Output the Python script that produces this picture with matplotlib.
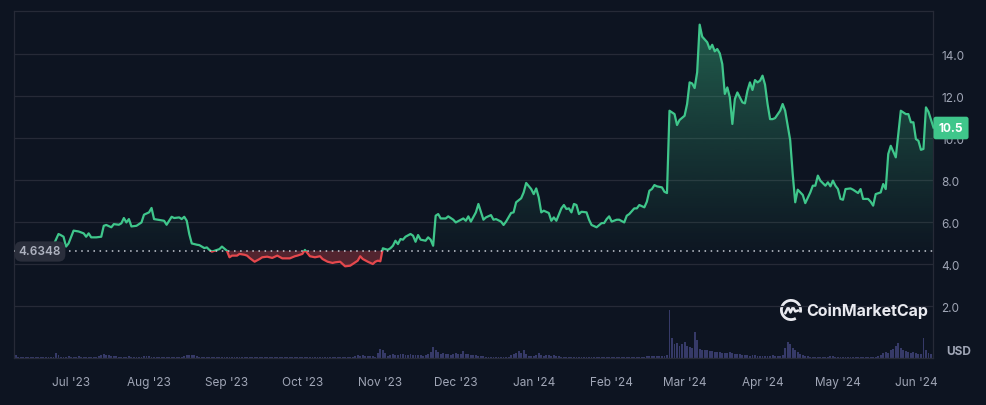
import numpy as np
import matplotlib
matplotlib.use("Agg")
import matplotlib.pyplot as plt
import matplotlib.dates as mdates
from matplotlib.path import Path
from matplotlib.patches import Rectangle, Arc

plt.rcParams['font.family'] = ['Inter', 'DejaVu Sans']

# ---------------- data ----------------
start_date = "2023-07-01"          # day 0
base_price = 4.6348                # reference (first) price
last_price = 10.5

price_days = [-22, -19, -16, -13, -10, -7,
    -5, -4, -3, -2, -1, 1, 3, 5, 6, 7, 8, 10, 12, 13, 14, 16, 17, 19, 20, 21, 22, 23, 24, 26,
    28, 29, 31, 32, 33, 35, 37, 38, 40, 41, 43, 44, 45, 46, 47, 48, 50, 51, 53, 54, 55, 56,
    58, 59, 60, 62, 63, 64, 66, 67, 69, 70, 71, 73, 75, 76, 78, 80, 82, 84, 86, 87, 89, 90,
    92, 93, 94, 95, 97, 99, 100, 102, 104, 105, 107, 109, 111, 112, 114, 115, 116, 118, 120,
    121, 122, 123, 124, 125, 126, 127, 128, 129, 130, 131, 132, 133, 135, 136, 137, 138, 139,
    141, 142, 143, 144, 145, 146, 147, 149, 150, 152, 153, 155, 156, 157, 158, 159, 161, 162,
    164, 165, 167, 168, 169, 171, 172, 173, 175, 176, 177, 179, 180, 181, 183, 184, 185, 186,
    187, 188, 190, 191, 192, 193, 195, 196, 197, 198, 199, 200, 201, 202, 203, 205, 206, 207,
    209, 211, 212, 213, 214, 215, 217, 218, 220, 221, 222, 224, 225, 226, 228, 229, 230, 231,
    232, 233, 235, 236, 237, 238, 240, 241, 242, 244, 245, 246, 247, 248, 249, 250, 251, 253,
    254, 255, 256, 257, 258, 259, 260, 261, 262, 263, 264, 265, 267, 268, 269, 270, 271, 272,
    273, 274, 275, 276, 277, 278, 279, 280, 282, 283, 284, 286, 287, 288, 289, 291, 292, 294,
    295, 296, 297, 298, 300, 301, 302, 303, 304, 305, 306, 307, 308, 310, 311, 313, 314, 315,
    317, 318, 319, 320, 322, 323, 324, 325, 326, 328, 330, 332, 333, 334, 335, 336, 337, 338,
    339, 340, 341, 343]

prices = [4.63, 4.70, 4.85, 4.60, 4.75, 4.90,
    5.43, 5.37, 5.30, 4.83, 4.98, 5.59, 5.55, 5.46, 5.30, 5.46, 5.27, 5.27, 5.30, 5.82, 5.86,
    5.75, 5.90, 5.87, 5.94, 6.19, 5.98, 6.14, 5.79, 5.82,
    5.98, 6.35, 6.46, 6.67, 6.14, 6.10, 6.06, 5.87, 6.25, 6.19, 6.22, 6.14, 6.25, 6.06, 5.43,
    4.98, 4.92, 4.90, 4.76, 4.79, 4.67, 4.59,
    4.67, 4.71, 4.83, 4.63, 4.32, 4.40, 4.40, 4.48, 4.44, 4.40, 4.29, 4.11, 4.24, 4.32, 4.35,
    4.29, 4.40, 4.27, 4.27, 4.27, 4.37, 4.40,
    4.48, 4.67, 4.52, 4.37, 4.32, 4.37, 4.24, 4.11, 4.05, 4.08, 4.11, 3.89, 3.92, 4.00, 4.16,
    4.37, 4.24, 4.11, 4.00,
    4.11, 4.16, 4.13, 4.75, 4.71, 4.68, 4.75, 4.87, 5.11, 4.95, 5.19, 5.16, 5.30, 5.43, 5.35,
    5.06, 5.38, 5.16,
    5.11, 5.27, 5.16, 4.87, 6.30, 6.38, 6.17, 6.17, 6.27, 6.11, 5.98, 6.11, 6.17, 6.06, 6.27,
    6.02, 6.46, 6.86,
    6.11, 6.22, 6.33, 6.11, 6.14, 6.02, 5.86, 6.02, 6.43, 6.46, 6.94, 7.13, 7.41, 7.86, 7.57,
    7.33, 7.60, 7.17,
    6.46, 6.54, 6.43, 6.06, 6.22, 6.06, 6.65, 6.81, 6.62, 6.65, 6.46, 6.86, 6.81, 6.38, 6.49,
    6.46, 6.11, 5.86,
    5.75, 5.95, 5.95, 6.14, 6.27, 6.02, 6.11, 6.11, 5.98, 6.30, 6.38, 6.65, 6.65, 6.81, 6.70,
    6.97, 7.49, 7.57,
    7.76, 7.70, 7.65, 7.44, 7.38, 11.30, 11.14, 10.62, 10.86, 11.06, 11.62, 12.65, 12.60, 12.38,
    13.13, 15.40, 14.83, 14.56,
    14.24, 14.44, 14.13, 14.24, 14.03, 13.52, 12.10, 12.41, 11.94, 10.67, 11.86, 12.17, 11.70,
    11.65, 12.25, 12.65, 12.29, 12.76,
    12.65, 12.73, 12.97, 12.54, 11.62, 10.90, 10.90, 10.95, 11.30, 11.62, 11.30, 9.90, 8.29,
    6.94, 7.54, 7.29, 6.90, 7.41,
    7.73, 7.73, 8.21, 7.97, 7.73, 7.89, 7.70, 7.97, 7.73, 7.57, 7.10, 7.06, 7.57, 7.60, 7.54,
    7.38, 7.57, 7.10,
    7.10, 6.97, 6.78, 7.33, 7.41, 7.81, 7.57, 9.24, 9.63, 9.08, 11.30, 11.14, 11.14, 10.75,
    10.75, 9.95, 9.87, 9.44,
    9.48, 11.46, 11.25, 10.50]

# daily volume, relative units, days -22 .. 343
volume = [
    3, 1, 1, 1, 1, 1, 1, 1, 1, 1,
    1, 1, 1, 1, 1, 1, 5, 3, 1, 1,
    1, 2, 1, 1, 1, 2, 1, 1, 1, 1,
    1, 1, 1, 2, 3, 4, 3, 3, 2, 2,
    2, 1, 1, 1, 1, 2, 1, 1, 1, 1,
    1, 2, 2, 2, 1, 1, 1, 1, 1, 1,
    1, 1, 1, 1, 1, 1, 1, 2, 3, 3,
    3, 3, 2, 1, 1, 1, 1, 1, 1, 1,
    1, 1, 1, 1, 1, 1, 1, 1, 1, 1,
    1, 1, 1, 1, 1, 1, 1, 1, 1, 1,
    1, 1, 1, 1, 1, 1, 1, 1, 1, 1,
    1, 1, 1, 1, 1, 1, 1, 1, 1, 1,
    1, 1, 1, 1, 1, 1, 1, 1, 1, 1,
    1, 1, 1, 1, 1, 2, 3, 2, 3, 2,
    2, 2, 2, 1, 5, 9, 8, 5, 2, 3,
    4, 3, 3, 4, 4, 3, 3, 4, 3, 3,
    3, 3, 2, 3, 4, 6, 11, 8, 6, 4,
    5, 4, 4, 3, 4, 5, 4, 4, 7, 4,
    4, 3, 3, 3, 2, 2, 2, 1, 1, 1,
    1, 1, 1, 1, 1, 1, 1, 3, 4, 5,
    7, 5, 8, 4, 2, 2, 2, 3, 5, 3,
    2, 3, 3, 2, 3, 2, 2, 1, 1, 1,
    1, 1, 1, 1, 1, 1, 1, 1, 1, 1,
    1, 1, 1, 1, 1, 1, 1, 1, 1, 1,
    1, 1, 1, 1, 1, 1, 1, 1, 1, 1,
    1, 2, 2, 2, 2, 2, 2, 2, 2, 3,
    48, 20, 14, 15, 12, 14, 16, 12, 11, 10,
    26, 18, 9, 8, 8, 8, 7, 7, 6, 6,
    6, 5, 5, 5, 6, 5, 4, 4, 4, 3,
    3, 3, 2, 3, 3, 2, 2, 2, 2, 2,
    2, 3, 2, 2, 2, 3, 10, 16, 14, 10,
    8, 6, 4, 3, 2, 2, 1, 1, 1, 1,
    1, 1, 1, 1, 2, 2, 1, 1, 1, 1,
    1, 1, 1, 1, 1, 1, 1, 1, 1, 1,
    1, 1, 1, 2, 3, 5, 6, 5, 8, 9,
    12, 15, 10, 8, 7, 6, 5, 6, 5, 4,
    4, 20, 8, 5, 4, 3]
volume_first_day = -22

month_ticks = ["2023-07-01", "2023-08-01", "2023-09-01", "2023-10-01", "2023-11-01",
               "2023-12-01", "2024-01-01", "2024-02-01", "2024-03-01", "2024-04-01",
               "2024-05-01", "2024-06-01"]
y_ticks = [2.0, 4.0, 6.0, 8.0, 10.0, 12.0, 14.0]

# ---------------- style ----------------
BG = '#0d1421'
GRID = '#262a37'
GREEN = '#3fc68b'
RED = '#e5484d'
TXT = '#a0a6b6'
VOL = '#363a68'

W, H = 987, 406
fig = plt.figure(figsize=(W / 100, H / 100), dpi=100, facecolor=BG)

L, R, T, B = 14, 933, 12, 359
ax = fig.add_axes([L / W, 1 - B / H, (R - L) / W, (B - T) / H])
axv = ax.twinx()
ax.set_zorder(axv.get_zorder() + 1)
ax.patch.set_visible(False)
axv.set_facecolor(BG)

t0 = mdates.date2num(np.datetime64(start_date))
x = t0 + np.array(price_days, dtype=float)
y = np.array(prices)

xmin, xmax = t0 - 22.7, t0 + 342.8
ymin, ymax = -0.476, 16.05

# volume bars
vx = t0 + volume_first_day + np.arange(len(volume))
axv.bar(vx, volume, width=0.75, color=VOL, linewidth=0)
axv.set_ylim(0, B - T)
axv.set_yticks([])
for s in axv.spines.values():
    s.set_visible(False)

# grid lines
for v in y_ticks:
    ax.axhline(v, color=GRID, lw=0.9, zorder=0)

# green gradient fill above baseline
fb = ax.fill_between(x, y, base_price, where=y >= base_price, interpolate=True,
                     facecolor='none', edgecolor='none')
clip = Path.make_compound_path(*fb.get_paths())
grad = np.linspace(0, 1, 256).reshape(-1, 1)
rgba = np.zeros((256, 1, 4))
rgba[..., 0] = 0x3f / 255
rgba[..., 1] = 0xc6 / 255
rgba[..., 2] = 0x8b / 255
rgba[..., 3] = 0.02 + 0.40 * grad[:, :] ** 1.1
im = ax.imshow(rgba, extent=[xmin, xmax, base_price, 15.6], origin='lower',
               aspect='auto', zorder=1, interpolation='bilinear')
im.set_clip_path(clip, transform=ax.transData)

# red fill below baseline
ax.fill_between(x, y, base_price, where=y <= base_price, interpolate=True,
                facecolor=RED, alpha=0.32, edgecolor='none', zorder=1)

# price line, coloured by side of baseline
lg, = ax.plot(x, y, color=GREEN, lw=1.6, zorder=3, solid_joinstyle='round')
lr, = ax.plot(x, y, color=RED, lw=1.6, zorder=3, solid_joinstyle='round')
up = Rectangle((xmin - 50, base_price), 500, 50, transform=ax.transData)
dn = Rectangle((xmin - 50, base_price - 50), 500, 50, transform=ax.transData)
lg.set_clip_path(up)
lr.set_clip_path(dn)

# baseline dotted
ax.axhline(base_price, color='#c8ccd6', lw=1.1, ls=(0, (1, 3)), zorder=4)

ax.set_xlim(xmin, xmax)
ax.set_ylim(ymin, ymax)

# axes / ticks
ax.yaxis.tick_right()
ax.set_yticks(y_ticks)
ax.set_yticklabels([f"{v:.1f}" for v in y_ticks])
ax.tick_params(axis='y', length=0, pad=6, labelsize=8.5, labelcolor=TXT)
mt = [mdates.date2num(np.datetime64(d)) for d in month_ticks]
ax.set_xticks(mt)
ax.set_xticklabels([np.datetime64(d).astype(object).strftime("%b '%y") for d in month_ticks])
ax.tick_params(axis='x', length=0, pad=13, labelsize=8.5, labelcolor=TXT)
for side in ['left', 'right', 'top', 'bottom']:
    ax.spines[side].set_color(GRID)
    ax.spines[side].set_linewidth(0.9)

# baseline label box
fig.text(40 / W, 1 - 252.5 / H, f"{base_price:.4f}", color='#aeb2bf', fontsize=8.5,
         fontweight='semibold', ha='center', va='center', zorder=10,
         bbox=dict(boxstyle='round,pad=0.35,rounding_size=0.6', fc='#2a2e3b', ec='none'))

# last price box
fig.text(951 / W, 1 - 129 / H, f"{last_price:.1f}", color='white', fontsize=8.5,
         fontweight='bold', ha='center', va='center', zorder=10,
         bbox=dict(boxstyle='round,pad=0.45,rounding_size=0.2', fc=GREEN, ec='none'))

# USD label
fig.text(959 / W, 1 - 352 / H, "USD", color=TXT, fontsize=8.5, fontweight='bold',
         ha='center', va='center')

# CoinMarketCap watermark
fig.text(806 / W, 1 - 311 / H, "CoinMarketCap", color='#e9eaf0', fontsize=11.5,
         fontweight='bold', ha='left', va='center')
lax = fig.add_axes([779 / W, 1 - 323 / H, 24 / W, 24 / H])
lax.set_xlim(-1.25, 1.25)
lax.set_ylim(-1.25, 1.25)
lax.axis('off')
lax.add_patch(Arc((0, 0), 2.0, 2.0, theta1=-15, theta2=300, color='#e9eaf0', lw=2.0))
lax.plot([-0.6, -0.3, -0.05, 0.2, 0.45, 0.75], [-0.35, 0.3, -0.25, 0.3, -0.15, -0.05],
         color='#e9eaf0', lw=1.8, solid_joinstyle='round', solid_capstyle='round')

fig.savefig("out.png", dpi=100, facecolor=BG)
